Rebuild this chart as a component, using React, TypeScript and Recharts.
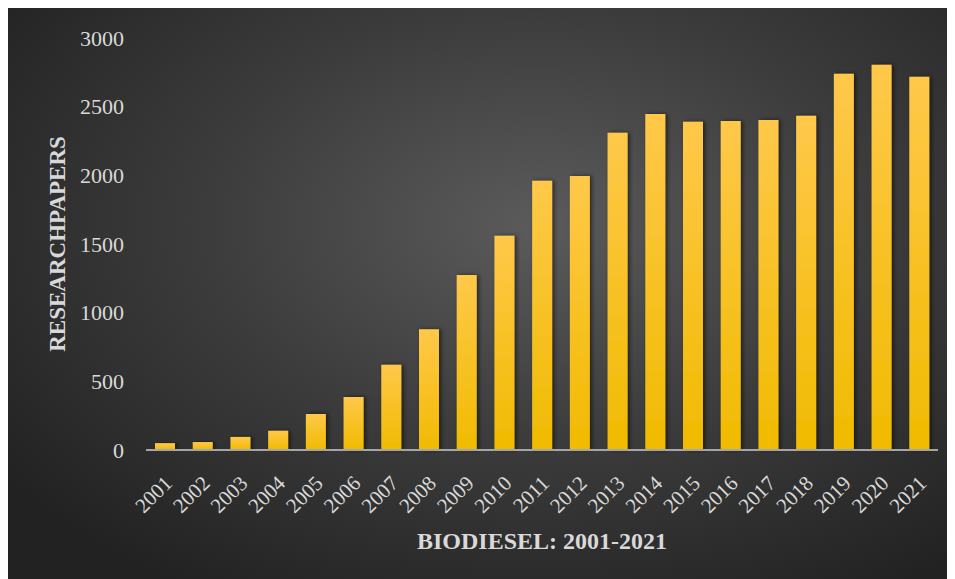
import { BarChart, Bar, XAxis, YAxis, Label } from "recharts";

const years = ["2001", "2002", "2003", "2004", "2005", "2006", "2007", "2008", "2009", "2010", "2011", "2012", "2013", "2014", "2015", "2016", "2017", "2018", "2019", "2020", "2021"];
const papers = [50, 58, 95, 140, 262, 386, 620, 880, 1275, 1560, 1960, 1995, 2310, 2447, 2390, 2396, 2403, 2433, 2740, 2805, 2717];
const yTicks = [0, 500, 1000, 1500, 2000, 2500, 3000];

const data = years.map((y, i) => ({ year: y, papers: papers[i] }));

const FONT = '"Liberation Serif", "Times New Roman", serif';
const TXT = "#d9d9d9";

export default function App() {
  return (
    <div
      style={{
        width: 947,
        height: 571,
        background: "radial-gradient(ellipse 70% 75% at 56% 38%, #5b5b5b 0%, #3c3c3c 50%, #222222 100%)",
      }}
    >
      <BarChart
        width={947}
        height={571}
        data={data}
        margin={{ top: 30, right: 17, bottom: 10, left: 40 }}
        barSize={20}
      >
        <defs>
          <linearGradient id="barFill" x1="0" y1="0" x2="0" y2="1">
            <stop offset="0%" stopColor="#ffc84a" />
            <stop offset="100%" stopColor="#f0bb00" />
          </linearGradient>
          <filter id="barShadow" x="-30%" y="-10%" width="160%" height="120%">
            <feDropShadow dx="2" dy="0" stdDeviation="2" floodColor="#000" floodOpacity="0.55" />
          </filter>
        </defs>
        <XAxis
          dataKey="year"
          interval={0}
          tickLine={false}
          axisLine={{ stroke: "#a6a6a6", strokeWidth: 2 }}
          angle={-45}
          textAnchor="end"
          tickMargin={18}
          tick={{ fill: TXT, fontFamily: FONT, fontSize: 21, dx: -2 }}
          height={119}
        >
          <Label
            value="BIODIESEL: 2001-2021"
            position="insideBottom"
            offset={20}
            style={{ fill: TXT, fontFamily: FONT, fontSize: 24, fontWeight: "bold" }}
          />
        </XAxis>
        <YAxis
          domain={[0, 3000]}
          ticks={yTicks}
          tickLine={false}
          axisLine={false}
          tickSize={0}
          tickMargin={22}
          width={98}
          tick={{ fill: TXT, fontFamily: FONT, fontSize: 22 }}
        >
          <Label
            value="RESEARCHPAPERS"
            angle={-90}
            position="insideLeft"
            offset={9}
            style={{ fill: TXT, fontFamily: FONT, fontSize: 23, fontWeight: "bold", textAnchor: "middle" }}
          />
        </YAxis>
        <Bar dataKey="papers" fill="url(#barFill)" filter="url(#barShadow)" isAnimationActive={false} />
      </BarChart>
    </div>
  );
}
